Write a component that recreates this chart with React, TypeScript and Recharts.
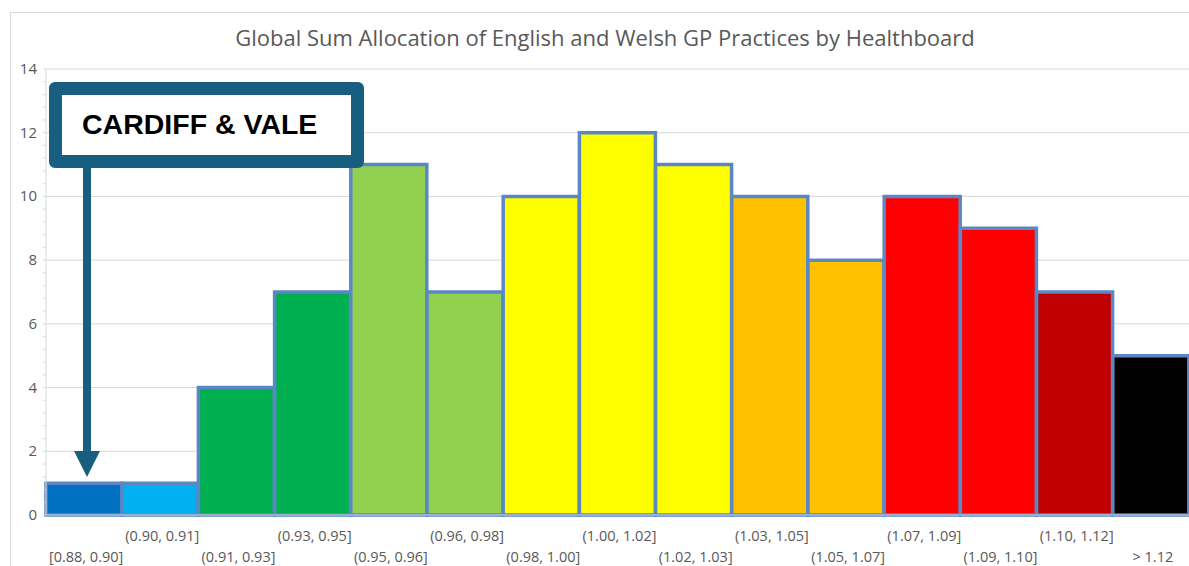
import React from "react";
import { BarChart, Bar, XAxis, YAxis, CartesianGrid, Cell } from "recharts";

const categories = [
  "[0.88, 0.90]", "(0.90, 0.91]", "(0.91, 0.93]", "(0.93, 0.95]", "(0.95, 0.96]",
  "(0.96, 0.98]", "(0.98, 1.00]", "(1.00, 1.02]", "(1.02, 1.03]", "(1.03, 1.05]",
  "(1.05, 1.07]", "(1.07, 1.09]", "(1.09, 1.10]", "(1.10, 1.12]", "> 1.12",
];
const counts = [1, 1, 4, 7, 11, 7, 10, 12, 11, 10, 8, 10, 9, 7, 5];
const barColors = [
  "#0070C0", "#00B0F0", "#00B050", "#00B050", "#92D050", "#92D050",
  "#FFFF00", "#FFFF00", "#FFFF00", "#FFC000", "#FFC000", "#FF0000",
  "#FF0000", "#C00000", "#000000",
];
const majorTicks = [0, 2, 4, 6, 8, 10, 12, 14];
const minorStep = 0.4;
const minorTicks = Array.from({ length: 36 }, (_, i) => Math.round(i * minorStep * 10) / 10);

const data = categories.map((c, i) => ({ name: c, value: counts[i] }));

const FONT = "'Open Sans', 'Noto Sans', sans-serif";
const TEXT_GRAY = "#595959";

const isMajor = (v: number) => majorTicks.some((m) => Math.abs(m - v) < 1e-6);

const YTick = (props: any) => {
  const { x, y, payload } = props;
  const v = payload.value as number;
  return (
    <g>
      <line x1={x - 3} x2={x} y1={y} y2={y} stroke="#D9D9D9" strokeWidth={1} />
      {isMajor(v) && (
        <text x={x - 9} y={y} dy={5} textAnchor="end" fontFamily={FONT} fontSize={15} fill={TEXT_GRAY}>
          {v}
        </text>
      )}
    </g>
  );
};

const XTick = (props: any) => {
  const { x, y, payload, index } = props;
  const i = typeof index === "number" ? index : categories.indexOf(payload.value);
  const offset = i % 2 === 1 ? 26 : 47;
  return (
    <text x={x + 2} y={y + offset} textAnchor="middle" fontFamily={FONT} fontSize={14.5} fill={TEXT_GRAY}>
      {payload.value}
    </text>
  );
};

export default function App() {
  return (
    <div style={{ position: "absolute", left: 0, top: 0, width: 1189, height: 566, background: "#fff", overflow: "hidden" }}>
      <div
        style={{
          position: "absolute", left: 10, top: 12, right: -2, bottom: -2,
          borderLeft: "1px solid #D9D9D9", borderTop: "1px solid #D9D9D9",
        }}
      />
      <div
        style={{
          position: "absolute", left: 0, width: 1210, top: 22, textAlign: "center",
          fontFamily: FONT, fontSize: 22, color: TEXT_GRAY, lineHeight: "30px",
        }}
      >
        Global Sum Allocation of English and Welsh GP Practices by Healthboard
      </div>
      <div style={{ position: "absolute", left: 0, top: 0 }}>
        <BarChart
          width={1189}
          height={566}
          data={data}
          margin={{ top: 69, right: 0, bottom: 0, left: 0 }}
          barCategoryGap={0}
          barGap={0}
        >
          <CartesianGrid vertical={false} horizontalValues={majorTicks} stroke="#D9D9D9" />
          <XAxis
            dataKey="name"
            height={51}
            interval={0}
            tickLine={false}
            tickSize={0}
            tickMargin={0}
            axisLine={{ stroke: "#D9D9D9" }}
            tick={<XTick />}
          />
          <YAxis
            width={46}
            domain={[0, 14]}
            ticks={minorTicks}
            interval={0}
            tickLine={false}
            tickSize={0}
            tickMargin={0}
            axisLine={{ stroke: "#D9D9D9" }}
            tick={<YTick />}
          />
          <Bar dataKey="value" stroke="#5B87C5" strokeWidth={3.5} isAnimationActive={false}>
            {data.map((_, i) => (
              <Cell key={i} fill={barColors[i]} />
            ))}
          </Bar>
        </BarChart>
      </div>
      <div
        style={{
          position: "absolute", left: 49, top: 82, width: 315, height: 86, boxSizing: "border-box",
          border: "13px solid #175E80", borderRadius: 6, background: "#fff",
        }}
      >
        <div
          style={{
            position: "absolute", left: 20, top: 13, fontFamily: "'Liberation Sans', Arial, sans-serif",
            fontWeight: 700, fontSize: 28.5, color: "#000", whiteSpace: "nowrap", lineHeight: "32px",
          }}
        >
          CARDIFF &amp; VALE
        </div>
      </div>
      <svg style={{ position: "absolute", left: 0, top: 0 }} width={1189} height={566} pointerEvents="none">
        <rect x={83} y={166} width={8} height={288} fill="#175E80" />
        <polygon points="74,451 100,451 87,477" fill="#175E80" />
      </svg>
    </div>
  );
}
